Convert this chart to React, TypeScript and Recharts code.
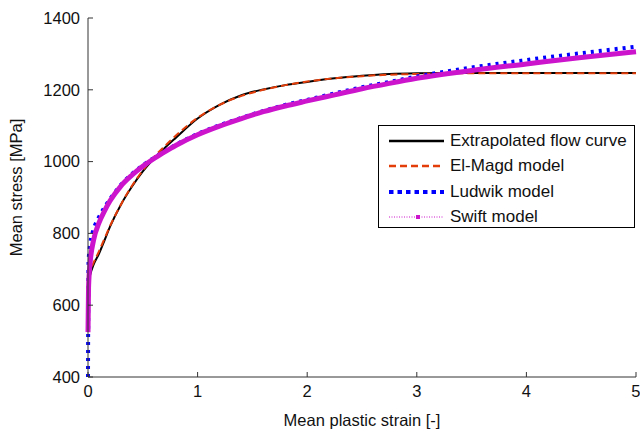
import { LineChart, Line, XAxis, YAxis, Label } from 'recharts'

// mean plastic strain [-]
const strain = [0, 0.005, 0.02, 0.05, 0.1, 0.15, 0.2, 0.3, 0.4, 0.5, 0.6, 0.7, 0.8, 1.0, 1.2, 1.4, 1.6, 1.8, 2.0, 2.25, 2.5, 2.75, 3.0, 3.5, 4.0, 4.5, 5.0]

// mean stress [MPa]
const flowCurve = [650, 665, 685, 712, 743, 780, 818, 880, 930, 973, 1008, 1038, 1066, 1120, 1158, 1185, 1201, 1213, 1222, 1232, 1239, 1244, 1246, 1247, 1247, 1247, 1247]
const elMagd = [680, 688, 698, 718, 750, 785, 820, 880, 932, 975, 1012, 1043, 1072, 1122, 1158, 1183, 1200, 1213, 1223, 1232, 1238, 1242, 1244, 1246, 1246, 1246, 1246]
const ludwik = [400, 720, 770, 810, 845, 872, 895, 935, 965, 990, 1010, 1029, 1047, 1077, 1101, 1122, 1141, 1158, 1172, 1190, 1207, 1222, 1237, 1262, 1283, 1302, 1320]
const swift = [525, 650, 720, 780, 829, 862, 890, 932, 962, 987, 1008, 1027, 1045, 1075, 1099, 1120, 1139, 1155, 1169, 1186, 1203, 1218, 1232, 1254, 1272, 1290, 1306]

const xTicks = [0, 1, 2, 3, 4, 5]
const yTicks = [400, 600, 800, 1000, 1200, 1400]

const series = [
  { key: 'flow', name: 'Extrapolated flow curve', values: flowCurve, color: '#000000', width: 2, dash: undefined },
  { key: 'elmagd', name: 'El-Magd model', values: elMagd, color: '#e33d0a', width: 2, dash: '7 4' },
  { key: 'ludwik', name: 'Ludwik model', values: ludwik, color: '#0000ff', width: 4, dash: '3 5' },
  { key: 'swift', name: 'Swift model', values: swift, color: '#cc14cc', width: 5, dash: undefined },
]

const data = strain.map((s, i) => {
  const row: Record<string, number> = { strain: s }
  for (const ser of series) row[ser.key] = ser.values[i]
  return row
})

const font = '"Liberation Sans", Arial, sans-serif'
const tickStyle = { fill: '#111', fontSize: 16.5, fontFamily: font }

function LegendBox() {
  return (
    <div
      style={{
        position: 'absolute', left: 378, top: 125, width: 257, height: 103,
        border: '1px solid #000', background: '#fff', fontFamily: font, fontSize: 17, color: '#111',
        paddingTop: 2, boxSizing: 'border-box',
      }}
    >
      {series.map((s) => (
        <div key={s.key} style={{ display: 'flex', alignItems: 'center', height: 25.5 }}>
          <svg width={71} height={12}>
            {s.key === 'swift' ? (
              <>
                <line x1={10} y1={6} x2={65} y2={6} stroke={s.color} strokeWidth={1} strokeDasharray="1 1.5" />
                <rect x={37} y={4} width={4} height={4} fill={s.color} />
              </>
            ) : (
              <line x1={10} y1={6} x2={65} y2={6} stroke={s.color} strokeWidth={s.key === 'ludwik' ? 4 : 2.5} strokeDasharray={s.key === 'ludwik' ? '4.5 4' : s.dash} />
            )}
          </svg>
          <span>{s.name}</span>
        </div>
      ))}
    </div>
  )
}

function YLabel(props: any) {
  const vb = props.viewBox
  const cx = 16
  const cy = vb.y + vb.height / 2 - 10
  return (
    <text x={cx} y={cy} transform={`rotate(-90, ${cx}, ${cy})`} textAnchor="middle" dominantBaseline="central" fill="#111" fontSize={16.5} fontFamily={font}>
      Mean stress [MPa]
    </text>
  )
}

export default function App() {
  return (
    <div style={{ position: 'absolute', left: 0, top: 0, width: 640, height: 435, background: '#fff' }}>
      <LineChart width={640} height={435} data={data} margin={{ top: 18, right: 4, bottom: 0, left: 0 }}>
        <XAxis
          dataKey="strain"
          type="number"
          domain={[0, 5]}
          ticks={xTicks}
          height={58}
          tickSize={-5}
          tickMargin={13}
          stroke="#333"
          tick={tickStyle}
          label={{ value: 'Mean plastic strain [-]', position: 'insideBottom', offset: 9, fill: '#111', fontSize: 16.5, fontFamily: font }}
        />
        <YAxis
          type="number"
          domain={[400, 1400]}
          ticks={yTicks}
          allowDataOverflow
          width={88}
          tickSize={-5}
          tickMargin={13}
          stroke="#333"
          tick={tickStyle}
        >
          <Label content={<YLabel />} />
        </YAxis>
        {series.map((s) => (
          <Line
            key={s.key}
            dataKey={s.key}
            name={s.name}
            type="monotone"
            stroke={s.color}
            strokeWidth={s.width}
            strokeDasharray={s.dash}
            dot={false}
            isAnimationActive={false}
          />
        ))}
      </LineChart>
      <LegendBox />
    </div>
  )
}
